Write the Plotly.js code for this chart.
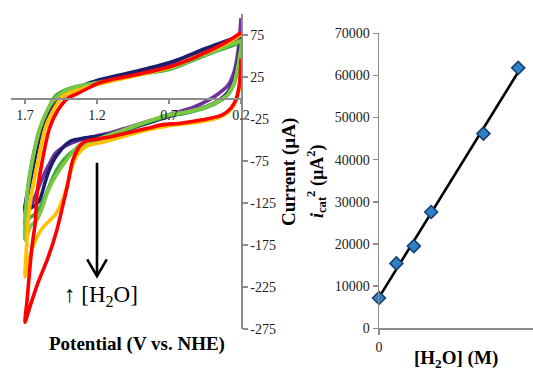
<!DOCTYPE html>
<html>
<head>
<meta charset="utf-8">
<script src="https://cdn.plot.ly/plotly-3.0.1.min.js"></script>
<style>html,body{margin:0;padding:0;background:#fff;}#chart{width:533px;height:372px;}</style>
</head>
<body>
<div id="chart"></div>
<script>
// ---------- Left panel: cyclic voltammograms (potential V vs NHE, current uA) ----------
const purpleV = [0.2,0.21,0.225,0.25,0.29,0.35,0.42,0.53,0.7,0.85,1.0,1.1,1.2,1.3,1.37,1.43,1.49,1.53,1.56,1.6,1.65,1.7,
                 1.69,1.665,1.63,1.59,1.54,1.47,1.42,1.36,1.3,1.2,1.1,0.9,0.7,0.6,0.46,0.35,0.25,0.2];
const purpleI = [95,72,50,30,15,6,-2,-11,-20,-28,-36,-41,-45,-49,-53,-58,-66,-78,-88,-104,-125,-137,
                 -118,-100,-70,-40,-18,-2,4,10,14,20,24,32,40,46,56,63,69,72];

const navyV = [0.2,0.21,0.225,0.25,0.29,0.34,0.41,0.55,0.7,0.85,1.0,1.1,1.2,1.3,1.38,1.42,1.46,1.49,1.53,1.56,1.6,1.65,1.7,
               1.685,1.665,1.63,1.59,1.54,1.47,1.42,1.37,1.3,1.2,1.05,0.9,0.7,0.6,0.46,0.35,0.25,0.2];
const navyI = [72,56,38,20,7,-1,-8,-16,-22,-30,-38,-43,-46,-48,-51,-56,-64,-71,-85,-100,-122,-130,-132,
               -118,-100,-70,-40,-18,-2,4,10,15,21,27,33,42,48,58,65,71,74];

const greenV = [0.2,0.21,0.225,0.25,0.29,0.34,0.45,0.59,0.7,0.85,1.0,1.1,1.2,1.3,1.34,1.4,1.46,1.51,1.55,1.59,1.63,1.67,1.7,
                1.69,1.675,1.645,1.6,1.55,1.49,1.44,1.38,1.3,1.2,1.05,0.9,0.7,0.6,0.46,0.35,0.25,0.2];
const greenI = [66,48,32,16,4,-3,-12,-18,-21,-29,-38,-44,-50,-56,-60,-68,-80,-96,-113,-128,-138,-143,-153,
                -125,-100,-70,-38,-17,2,8,12,15,18,23,28,34,40,50,57,63,66];

const limeV = [0.2,0.21,0.225,0.25,0.29,0.34,0.45,0.59,0.7,0.85,1.0,1.1,1.2,1.27,1.33,1.42,1.47,1.51,1.55,1.58,1.62,1.66,1.7,
               1.695,1.686,1.65,1.596,1.555,1.51,1.46,1.4,1.3,1.2,1.05,0.9,0.7,0.6,0.46,0.35,0.25,0.2];
const limeI = [68,50,34,17,5,-2,-11,-17,-20,-28,-37,-43,-49,-53,-57,-76,-88,-100,-115,-131,-146,-152,-169,
               -140,-115,-76,-36,-18,-5,4,10,15,18,23,28,35,41,51,58,65,68];

const orangeV = [0.2,0.21,0.225,0.25,0.29,0.35,0.47,0.6,0.7,0.85,1.0,1.1,1.2,1.27,1.33,1.37,1.4,1.44,1.49,1.53,1.58,1.62,1.665,1.7,
                 1.69,1.675,1.65,1.61,1.56,1.505,1.44,1.38,1.3,1.2,1.05,0.9,0.7,0.6,0.46,0.35,0.25,0.2];
const orangeI = [30,14,2,-9,-17,-23,-28,-31,-33,-38,-45,-50,-54,-57,-66,-80,-100,-122,-139,-146,-155,-167,-187,-213,
                 -180,-140,-110,-76,-36,-15,2,7,11,16,22,28,36,43,53,61,70,75];

const redV = [0.2,0.205,0.215,0.235,0.27,0.33,0.47,0.62,0.75,0.85,1.0,1.1,1.2,1.27,1.31,1.34,1.37,1.41,1.44,1.48,1.54,1.61,1.665,1.7,
              1.685,1.665,1.65,1.63,1.615,1.578,1.53,1.47,1.4,1.34,1.27,1.2,1.1,0.9,0.7,0.55,0.45,0.35,0.25,0.2];
const redI = [47,28,12,-2,-12,-20,-26,-30,-32,-36,-42,-46,-49,-51,-55,-63,-75,-108,-130,-158,-190,-220,-248,-267,
              -240,-200,-175,-150,-112,-73,-36,-14,0,5,11,17,22,29,37,46,54,62,72,78];

const cvColors = ['#7030A0','#1B1F6B','#3DAA3F','#7CC843','#FFC000','#FF0000'];
const cvV = [purpleV, navyV, greenV, limeV, orangeV, redV];
const cvI = [purpleI, navyI, greenI, limeI, orangeI, redI];

const xTicksLeft = [1.7, 1.2, 0.7, 0.2];
const yTicksLeft = [75, 25, -25, -75, -125, -175, -225, -275];

// ---------- Right panel: i_cat^2 vs [H2O] ----------
const waterConc = [0, 1, 2, 3, 6, 8];
const icat2 = [7200, 15400, 19500, 27600, 46200, 61800];

// ---------- layout helpers (pixel -> paper) ----------
const W = 533, H = 372;
const fx = p => p / W;
const fy = p => 1 - p / H;
const FONT = 'Liberation Serif, Times New Roman, serif';
const AX = '#8c8c8c';

const traces = [];
cvV.forEach((v, k) => {
  traces.push({
    x: v, y: cvI[k], type: 'scatter', mode: 'lines',
    line: {color: cvColors[k], width: 3.6, shape: 'spline', smoothing: 0.8},
    xaxis: 'x', yaxis: 'y', hoverinfo: 'skip'
  });
});

// least-squares trendline through the measured points
const n = waterConc.length;
const mx = waterConc.reduce((a, b) => a + b, 0) / n;
const my = icat2.reduce((a, b) => a + b, 0) / n;
let sxy = 0, sxx = 0;
for (let i = 0; i < n; i++) { sxy += (waterConc[i] - mx) * (icat2[i] - my); sxx += (waterConc[i] - mx) ** 2; }
const slope = sxy / sxx, icpt = my - slope * mx;
const xFit = [waterConc[0], waterConc[n - 1]];
const yFit = xFit.map(x => icpt + slope * x);

traces.push({
  x: xFit, y: yFit, type: 'scatter', mode: 'lines',
  line: {color: '#000', width: 2.6}, xaxis: 'x2', yaxis: 'y2', cliponaxis: false, hoverinfo: 'skip'
});
traces.push({
  x: waterConc, y: icat2, type: 'scatter', mode: 'markers',
  marker: {symbol: 'diamond', size: 10, color: '#2F80C8', line: {color: '#13406B', width: 1.5}},
  xaxis: 'x2', yaxis: 'y2', cliponaxis: false, hoverinfo: 'skip'
});

const tickFont = {family: FONT, size: 14, color: '#222'};
const titleFont = {family: FONT, size: 19, color: '#000'};

const layout = {
  width: W, height: H,
  margin: {l: 0, r: 0, t: 0, b: 0},
  paper_bgcolor: '#fff', plot_bgcolor: 'rgba(0,0,0,0)',
  showlegend: false,
  xaxis: {
    domain: [fx(10.6), fx(241)], range: [1.8, 0.2], anchor: 'free', position: fy(98),
    tickvals: xTicksLeft, ticktext: xTicksLeft.map(v => v.toFixed(1)),
    showline: true, linecolor: AX, linewidth: 1.5, ticks: 'outside', ticklen: 4, tickcolor: AX, tickwidth: 1.5,
    showgrid: false, zeroline: false, tickfont: tickFont
  },
  yaxis: {
    domain: [fy(329), fy(14)], range: [-275, 100], anchor: 'x', side: 'right',
    tickvals: yTicksLeft, ticktext: yTicksLeft.map(String),
    showline: true, linecolor: AX, linewidth: 1.5, ticks: 'outside', ticklen: 5, tickcolor: AX, tickwidth: 1.5,
    showgrid: false, zeroline: false, tickfont: tickFont
  },
  xaxis2: {
    domain: [fx(379), 1], range: [0, 8.85], anchor: 'y2',
    tickvals: [0], ticktext: ['0'],
    showline: true, linecolor: AX, linewidth: 1.5, ticks: 'outside', ticklen: 5, tickcolor: AX, tickwidth: 1.5,
    showgrid: false, zeroline: false, tickfont: tickFont
  },
  yaxis2: {
    domain: [fy(328.3), fy(33.3)], range: [0, 70000], anchor: 'x2', dtick: 10000, tickformat: 'd',
    showline: true, linecolor: AX, linewidth: 1.5, ticks: 'outside', ticklen: 5, tickcolor: AX, tickwidth: 1.5,
    showgrid: false, zeroline: false, tickfont: tickFont
  },
  shapes: [
    {type: 'line', xref: 'x', yref: 'y', x0: 1.2, x1: 1.2, y0: -77, y1: -211, line: {color: '#000', width: 2.6}},
    {type: 'path', xref: 'x', yref: 'y', path: 'M 1.268,-192 L 1.2,-212 L 1.132,-192', line: {color: '#000', width: 2.6}}
  ],
  annotations: [
    {xref: 'paper', yref: 'paper', x: fx(101), y: fy(296), xanchor: 'center', yanchor: 'middle', showarrow: false,
     text: '↑ [H<sub>2</sub>O]', font: {family: FONT, size: 23, color: '#000'}},
    {xref: 'paper', yref: 'paper', x: fx(137), y: fy(344), xanchor: 'center', yanchor: 'middle', showarrow: false,
     text: '<b>Potential (V vs. NHE)</b>', font: titleFont},
    {xref: 'paper', yref: 'paper', x: fx(289), y: fy(172), xanchor: 'center', yanchor: 'middle', showarrow: false,
     textangle: -90, text: '<b>Current (µA)</b>', font: titleFont},
    {xref: 'paper', yref: 'paper', x: fx(316), y: fy(181), xanchor: 'center', yanchor: 'middle', showarrow: false,
     textangle: -90, text: '<b><i>i</i><sub>cat</sub><sup>2</sup> (µA<sup>2</sup>)</b>', font: {family: FONT, size: 18, color: '#000'}},
    {xref: 'paper', yref: 'paper', x: fx(456), y: fy(359), xanchor: 'center', yanchor: 'middle', showarrow: false,
     text: '<b>[H<sub>2</sub>O] (M)</b>', font: titleFont}
  ]
};

Plotly.newPlot('chart', traces, layout, {staticPlot: true, displayModeBar: false});
</script>
</body>
</html>
